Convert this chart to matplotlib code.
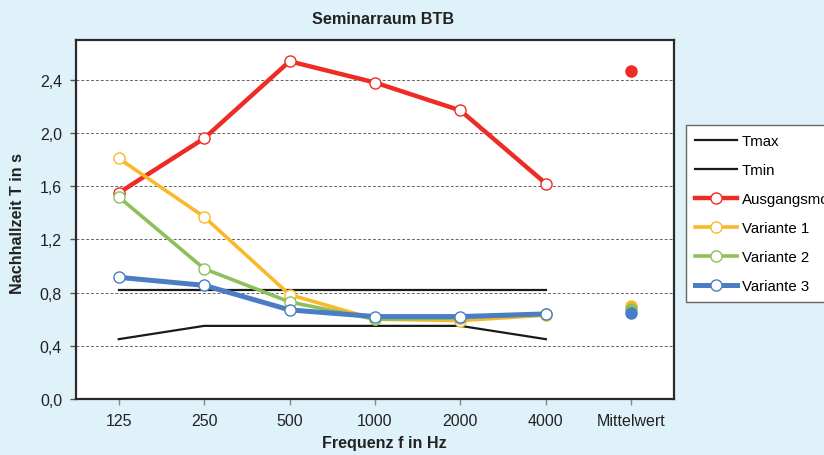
import matplotlib
matplotlib.use("Agg")
import matplotlib.pyplot as plt
from matplotlib.ticker import FuncFormatter

plt.rcParams['font.family'] = ['Liberation Sans', 'DejaVu Sans']

categories = ["125", "250", "500", "1000", "2000", "4000", "Mittelwert"]
freq_idx = [0, 1, 2, 3, 4, 5]
mean_idx = 6

tmax = [0.82, 0.82, 0.82, 0.82, 0.82, 0.82]
tmin = [0.45, 0.55, 0.55, 0.55, 0.55, 0.45]
ausgang = [1.55, 1.96, 2.54, 2.38, 2.17, 1.62]
var1 = [1.81, 1.37, 0.785, 0.60, 0.59, 0.63]
var2 = [1.52, 0.98, 0.73, 0.60, 0.61, 0.64]
var3 = [0.915, 0.855, 0.67, 0.62, 0.62, 0.64]
means = {"Ausgangsmodell": 2.47, "Variante 1": 0.70, "Variante 2": 0.68, "Variante 3": 0.645}
yticks = [0.0, 0.4, 0.8, 1.2, 1.6, 2.0, 2.4]

bg = "#dff2fa"
c_red = "#ee2b25"
c_yel = "#fbb82a"
c_grn = "#8dbf5b"
c_blu = "#4a7dc4"

fig = plt.figure(figsize=(8.24, 4.56), dpi=100, facecolor=bg)
ax = fig.add_axes([76/824, 1-400/456, (674-76)/824, (400-41)/456])
ax.set_facecolor("white")

for y in yticks[1:]:
    ax.axhline(y, color="#666666", lw=0.7, ls=(0, (3, 2)), zorder=1)

h1, = ax.plot(freq_idx, tmax, color="#1a1a1a", lw=1.6, label="Tmax", zorder=3)
h2, = ax.plot(freq_idx, tmin, color="#1a1a1a", lw=1.6, label="Tmin", zorder=3)
mk = dict(marker="o", markersize=8, markerfacecolor="white", markeredgewidth=1.0)
h3, = ax.plot(freq_idx, ausgang, color=c_red, lw=3.2, markeredgecolor=c_red, label="Ausgangsmodell", zorder=4, **mk)
h4, = ax.plot(freq_idx, var1, color=c_yel, lw=2.6, markeredgecolor=c_yel, label="Variante 1", zorder=5, **mk)
h5, = ax.plot(freq_idx, var2, color=c_grn, lw=2.6, markeredgecolor=c_grn, label="Variante 2", zorder=6, **mk)
h6, = ax.plot(freq_idx, var3, color=c_blu, lw=3.6, markeredgecolor=c_blu, label="Variante 3", zorder=7, **mk)

for name, col in [("Ausgangsmodell", c_red), ("Variante 1", c_yel), ("Variante 2", c_grn), ("Variante 3", c_blu)]:
    ax.plot([mean_idx], [means[name]], marker="o", markersize=8, color=col, ls="none", zorder=8)

ax.set_xlim(-0.5, 6.5)
ax.set_ylim(0, 2.7)
ax.set_xticks(range(len(categories)))
ax.set_xticklabels(categories)
ax.set_yticks(yticks)
ax.yaxis.set_major_formatter(FuncFormatter(lambda v, p: f"{v:.1f}".replace(".", ",")))
ax.tick_params(axis="both", labelsize=11.5, colors="#222222", length=4, width=1, pad=6)
ax.tick_params(axis="y", color="#555555")
ax.tick_params(axis="x", color="#888888")
for s in ax.spines.values():
    s.set_color("#2a2a2a")
    s.set_linewidth(1.6)

fig.text(384/824, 1-444/456, "Frequenz f in Hz", ha="center", va="center", fontsize=11.6,
         fontweight="bold", color="#222222")
fig.text(18/824, 1-224/456, "Nachhallzeit T in s", ha="center", va="center", fontsize=11.6,
         fontweight="bold", color="#222222", rotation=90)
fig.text(383/824, 1-20/456, "Seminarraum BTB", ha="center", va="center", fontsize=11.7,
         fontweight="bold", color="#222222")

leg = fig.legend(handles=[h1, h2, h3, h4, h5, h6], loc="upper left",
                 bbox_to_anchor=(686/824, 1-126/456), fontsize=10.8, frameon=True,
                 fancybox=False, edgecolor="#666666", facecolor="white",
                 handlelength=2.8, handletextpad=0.3, labelspacing=1.0,
                 borderpad=0.6, borderaxespad=0)
leg.get_frame().set_linewidth(1.0)
leg.get_frame().set_alpha(1)

fig.savefig("out.png", dpi=100, facecolor=bg)
